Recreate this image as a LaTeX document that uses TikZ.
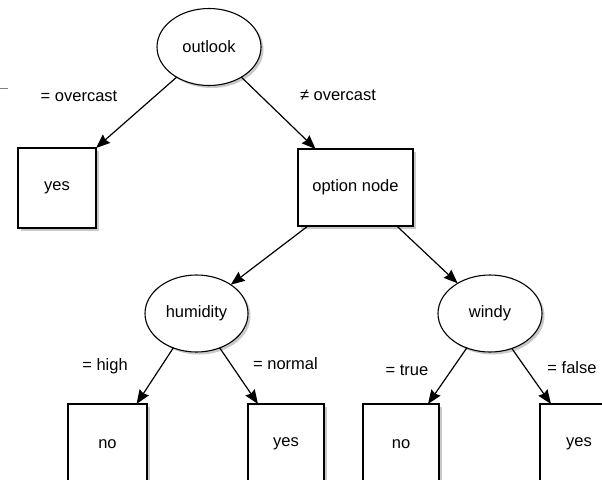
\documentclass[tikz,border=0pt]{standalone}
\usepackage{fontspec}
\setmainfont{Liberation Sans}
\usetikzlibrary{shadows,arrows.meta,shapes.geometric}
\begin{document}
\begin{tikzpicture}[x=1pt,y=-1pt,
  base/.style={draw=black, line width=1.1pt, fill=white, outer sep=0pt, inner sep=0pt,
    font=\fontsize{16.5}{20}\selectfont,
    drop shadow={shadow xshift=2.5pt, shadow yshift=-2.5pt, opacity=0.3, fill=black!70}},
  decision/.style={base, ellipse, minimum width=104pt, minimum height=77pt},
  leaf/.style={base, rectangle, minimum width=78pt, minimum height=80pt},
  edge/.style={draw=black, line width=1.2pt, -{Stealth[length=14pt,width=11pt,inset=1.5pt]}},
  lbl/.style={font=\fontsize{16.5}{20}\selectfont, inner sep=0pt}]
\useasboundingbox (0,0) rectangle (602,479);
\clip (0,0) rectangle (602,479);

% stray line at top left
\coordinate (s1) at (0,88);
\coordinate (s2) at (8,88);
\draw[gray, line width=0.8pt] (s1) -- (s2);

% nodes
\node[decision] (outlook) at (209,47) {outlook};
\node[leaf] (yes1) at (57,188) {yes};
\node[leaf, minimum width=115pt, minimum height=77pt] (option) at (355.5,187.5) {option node};
\node[decision, minimum width=103pt] (humidity) at (196.5,313.5) {humidity};
\node[decision] (windy) at (490,313.5) {windy};
\node[leaf, minimum width=79pt] (no1) at (107.5,444) {no};
\node[leaf, minimum width=76pt] (yes2) at (286,444) {yes};
\node[leaf, minimum width=76pt] (no2) at (401,444) {no};
\node[leaf, minimum width=78pt] (yes3) at (579,444) {yes};

% edges
\draw[edge] (outlook.223) -- (yes1.north east);
\draw[edge] (outlook.317) -- (option.136);
\draw[edge] (option.219) -- (humidity.40);
\draw[edge] (option.317) -- (windy.137);
\draw[edge] (humidity.236) -- (no1.54);
\draw[edge] (humidity.304) -- (yes2.125);
\draw[edge] (windy.236) -- (no2.56);
\draw[edge] (windy.302) -- (yes3.125);

% labels
\node[lbl] (l1) at (79,96) {= overcast};
\node[lbl] (l2) at (338,95) {≠ overcast};
\node[lbl] (l3) at (105,366) {= high};
\node[lbl] (l4) at (285.5,364) {= normal};
\node[lbl] (l5) at (407,370) {= true};
\node[lbl] (l6) at (572,368) {= false};
\end{tikzpicture}
\end{document}
